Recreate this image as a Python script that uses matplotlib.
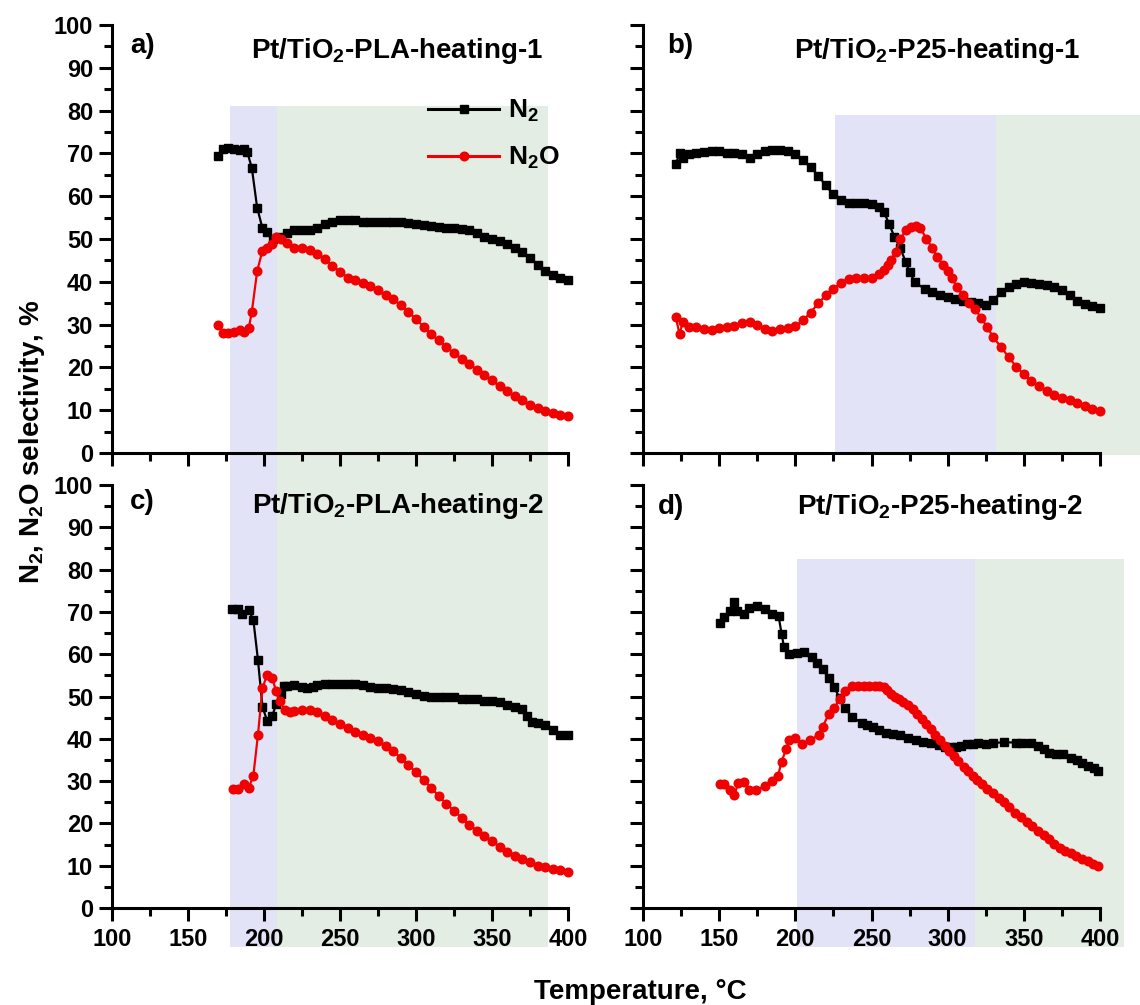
import matplotlib
matplotlib.use("Agg")
import matplotlib.pyplot as plt
from matplotlib.patches import Rectangle
from matplotlib.ticker import MultipleLocator

plt.rcParams['font.family'] = ['Liberation Sans', 'DejaVu Sans']
plt.rcParams['font.weight'] = 'bold'
plt.rcParams['mathtext.fontset'] = 'custom'
plt.rcParams['mathtext.rm'] = 'Liberation Sans:bold'
plt.rcParams['mathtext.it'] = 'Liberation Sans:bold'
plt.rcParams['mathtext.bf'] = 'Liberation Sans:bold'
plt.rcParams['mathtext.sf'] = 'Liberation Sans:bold'
plt.rcParams['mathtext.default'] = 'rm'

# ---------------- data ----------------
# (a) Pt/TiO2-PLA-heating-1
a_n2_T = [170, 173, 176, 180, 184, 187, 189, 192, 195.5, 199, 202, 206, 210,
          215, 220, 225, 230, 235, 240, 245, 250, 255, 260, 265, 270, 275, 280,
          285, 290, 295, 300, 305, 310, 315, 320, 325, 330, 335, 340, 345, 350,
          355, 360, 365, 370, 375, 380, 385, 390, 395, 400]
a_n2 = [69.5, 71, 71.2, 71, 70.8, 71, 70.3, 66.6, 57.3, 52.5, 51.7, 50, 50.5,
        51.5, 52, 52, 52, 52.5, 53.5, 54, 54.5, 54.5, 54.5, 54, 54, 54, 54,
        54, 54, 53.8, 53.5, 53.3, 53, 52.8, 52.6, 52.5, 52.3, 52, 51.5, 50.5, 50,
        49.5, 48.8, 48, 47, 45.5, 44, 42.5, 41.5, 41, 40.5]
a_n2o_T = [170, 173, 176, 180, 184, 187, 190, 192, 195.5, 199, 202, 205, 208, 211,
           215, 220, 225, 230, 235, 240, 245, 250, 255, 260, 265, 270, 275, 280,
           285, 290, 295, 300, 305, 310, 315, 320, 325, 330, 335, 340, 345, 350,
           355, 360, 365, 370, 375, 380, 385, 390, 395, 400]
a_n2o = [30, 28, 28, 28.3, 28.8, 28.2, 29.2, 33, 42.5, 47.3, 48, 48.8, 50.5, 50,
         49, 48, 47.8, 47.5, 46.5, 45.3, 43.8, 42.3, 41, 40.5, 39.7, 39, 38, 37,
         36, 34.5, 33, 31.3, 29.5, 27.8, 26.3, 24.8, 23.3, 22, 20.8, 19.5, 18.3, 17,
         15.6, 14.5, 13.3, 12.3, 11.3, 10.5, 9.8, 9.3, 8.9, 8.7]

# (b) Pt/TiO2-P25-heating-1
b_n2_T = [121.5, 124, 126, 130, 135, 140, 145, 150, 155, 160, 165, 170, 175, 180,
          185, 190, 195, 200, 205, 210, 215, 220, 225, 230, 235, 240, 245, 250, 255,
          258, 261.5, 265, 269, 272.5, 275, 278.5, 285, 290, 295, 300, 305, 310,
          315, 320, 325, 330, 335, 340, 345, 350, 355, 360, 365, 370, 375, 380,
          385, 390, 395, 400]
b_n2 = [67.5, 70, 69, 69.8, 70.2, 70.3, 70.5, 70.5, 70, 70.2, 69.8, 69, 69.8, 70.5,
        70.9, 70.8, 70.5, 69.8, 68.4, 66.8, 64.8, 62.5, 60.4, 59, 58.5, 58.4, 58.3, 58.2, 57.5,
        56.4, 53.6, 50.5, 47.8, 44.6, 42.3, 39.9, 38.3, 37.6, 37, 36.4, 36, 35.5,
        35.2, 35, 34.5, 35.8, 37.5, 38.8, 39.5, 40, 39.8, 39.6, 39.3, 38.8, 38, 37,
        35.5, 34.8, 34.4, 33.8]
b_n2o_T = [121.5, 124, 126, 130, 135, 140, 145, 150, 155, 160, 165, 170, 175, 180,
           185, 190, 195, 200, 205, 210, 215, 220, 225, 230, 235, 240, 245, 250, 255,
           258, 261, 263, 266, 269, 272.5, 276, 279, 282, 286, 290, 293, 297, 300,
           303, 306, 310, 314, 318, 322, 326, 330, 335, 340, 345, 350, 355, 360,
           365, 370, 375, 380, 385, 390, 395, 400]
b_n2o = [31.7, 27.8, 30.5, 29.5, 29.5, 29, 28.8, 29.3, 29.4, 29.6, 30.3, 30.5, 29.8, 29,
         28.6, 29, 29.2, 29.6, 31, 32.8, 35, 36.8, 38.3, 39.8, 40.7, 40.8, 40.8, 41, 41.8,
         42.7, 44, 45.2, 47, 50, 52, 52.8, 53, 52.6, 50.1, 47.8, 45.8, 44, 42.6,
         41, 38.7, 36.8, 35.1, 33.6, 31.6, 29.4, 27, 24.8, 22.4, 20.2, 18.4, 16.8, 15.6,
         14.5, 13.6, 12.8, 12.4, 11.7, 10.9, 10.3, 9.7]

# (c) Pt/TiO2-PLA-heating-2
c_n2_T = [179, 183, 185.5, 190, 193, 196, 199, 202, 205.5, 208, 211, 213, 215, 220,
          225, 228, 232, 235, 240, 245, 250, 255, 260, 265, 270, 275, 280, 285, 290,
          295, 300, 305, 310, 315, 320, 325, 330, 335, 340, 345, 350, 355, 360, 365,
          370, 373, 376, 380, 385, 390, 395, 400]
c_n2 = [70.6, 70.6, 69.6, 70.4, 68.1, 58.7, 47.6, 44.3, 45.5, 48.2, 50.5, 52.6, 52.5, 52.7,
        52.3, 52, 52.3, 52.7, 53, 53, 53, 53, 53, 52.7, 52.3, 52, 52, 51.8, 51.5,
        51, 50.5, 50.2, 50, 50, 50, 49.8, 49.5, 49.5, 49.3, 49, 49, 48.6, 48, 47.6,
        47, 45.5, 44, 43.8, 43.3, 42, 41, 40.8]
c_n2o_T = [179.5, 183, 187, 190, 193, 196, 199, 202, 205.5, 208, 210.5, 213.5, 217,
           220, 225, 230, 235, 240, 245, 250, 255, 260, 265, 270, 275, 280, 285, 290,
           295, 300, 305, 310, 315, 320, 325, 330, 335, 340, 345, 350, 355, 360, 365,
           370, 375, 380, 385, 390, 395, 400]
c_n2o = [28.2, 28.2, 29.4, 28.4, 31.3, 40.9, 52, 55.1, 54.3, 51.2, 48.9, 46.8, 46.4,
         46.5, 46.7, 46.8, 46.3, 45.5, 44.5, 43.4, 42.5, 41.7, 41, 40.3, 39.4, 38.4, 37, 35.5,
         33.8, 32.1, 30.3, 28.4, 26.5, 24.6, 23, 21.3, 19.7, 18.3, 17, 15.8, 14.5, 13.3, 12.4,
         11.6, 10.8, 10, 9.6, 9.2, 8.9, 8.6]

# (d) Pt/TiO2-P25-heating-2
d_n2_T = [150.5, 153.5, 157, 160, 162, 166, 169.5, 175, 180, 185,
          189, 191, 192.5, 196, 201, 206, 211, 214.5, 218, 222,
          225.5, 229, 232.5, 237.5, 243.5, 247, 251, 255, 259.5, 264,
          269, 274, 279, 284, 289, 294, 298.5, 302, 305.5, 309,
          313, 316.5, 320, 325, 330, 337, 345, 349, 355, 359,
          363, 366.5, 371, 376, 381, 385, 388, 392, 396, 399]
d_n2 = [67.3, 68.9, 70.2, 72.3, 70.2, 69.4, 71, 71.4, 70.8, 69.6,
        69, 64.8, 61.8, 60, 60.2, 60.6, 59.3, 58, 56.4, 54.3,
        52.2, 49.7, 47.2, 45.1, 43.8, 43.3, 42.9, 42.1, 41.3, 41.1,
        40.9, 40.2, 39.6, 39.3, 39, 38.5, 38, 38, 38, 38.3,
        38.8, 38.8, 38.9, 38.8, 39, 39.2, 39.1, 39, 39, 38.4,
        37.5, 36.7, 36.5, 36.3, 35.5, 34.9, 34.2, 33.6, 33.1, 32.5]
d_n2o_T = [150.5, 153.5, 157, 160, 162.5, 166, 169.5, 174, 180, 185,
           188.5, 191, 194, 196, 200, 204.5, 209.5, 215.5, 218, 222,
           225.5, 229, 232.5, 237.5, 241, 245, 248.5, 252, 255, 258,
           260.5, 263, 265.5, 268, 271, 274, 277, 280, 283, 286,
           289, 292, 295, 298, 301, 304, 307, 310.5, 313.5, 316.5,
           319.5, 322.5, 326, 330, 333.5, 337, 340.5, 344.5, 348, 352,
           355.5, 359, 363, 366.5, 370, 373.5, 377, 381, 384.5, 388,
           392, 395.5, 399]
d_n2o = [29.4, 29.2, 27.9, 26.7, 29.6, 29.8, 27.9, 27.9, 28.8, 30,
         31.1, 34.6, 37.6, 39.6, 40.1, 38.8, 39.6, 40.9, 42.9, 45.9,
         47.2, 49.3, 51.4, 52.4, 52.5, 52.6, 52.6, 52.6, 52.5, 52.2,
         51.5, 50.5, 50, 49.3, 48.7, 48, 47, 45.9, 44.7, 43.4,
         42.2, 40.9, 39.7, 38.4, 37.2, 35.9, 34.7, 33.4, 32.4, 31.3,
         30.3, 29.2, 28.2, 27.1, 26, 25, 23.8, 22.5, 21.5, 20.4,
         19.3, 18.3, 17.2, 16.2, 15.1, 14.1, 13.5, 12.9, 12.3, 11.6,
         11, 10.4, 10]

titles = ["Pt/TiO$_2$-PLA-heating-1", "Pt/TiO$_2$-P25-heating-1",
          "Pt/TiO$_2$-PLA-heating-2", "Pt/TiO$_2$-P25-heating-2"]
panel_labels = ["a)", "b)", "c)", "d)"]

# temperature ranges of the shaded regions (blue range, green range)
a_blue = [177.6, 208.5]; a_green = [208.5, 387]
b_blue = [226, 332];     b_green = [332, 426.5]
c_blue = [177.6, 208.5]; c_green = [208.5, 387]
d_blue = [201, 318];     d_green = [318, 415.5]

# ---------------- figure ----------------
W, H = 1140, 1005
fig = plt.figure(figsize=(W / 100, H / 100), dpi=100)

def px_axes(x0, x1, ytop, ybot):
    return [x0 / W, 1 - ybot / H, (x1 - x0) / W, (ybot - ytop) / H]

axA = fig.add_axes(px_axes(112, 568, 25, 453), zorder=2)
axB = fig.add_axes(px_axes(643, 1100, 25, 453), zorder=2)
axC = fig.add_axes(px_axes(112, 568, 485, 908), zorder=1)
axD = fig.add_axes(px_axes(643, 1100, 485, 908), zorder=1)

BLUE_SHADE = '#E3E3F8'
GREEN_SHADE = '#E3EDE3'
RED = '#F00000'

panels = [
    (axA, a_n2_T, a_n2, a_n2o_T, a_n2o, a_blue, a_green, (-4, 81), True, False),
    (axB, b_n2_T, b_n2, b_n2o_T, b_n2o, b_blue, b_green, (-0.4, 79), False, False),
    (axC, c_n2_T, c_n2, c_n2o_T, c_n2o, c_blue, c_green, (-9.2, 107), True, True),
    (axD, d_n2_T, d_n2, d_n2o_T, d_n2o, d_blue, d_green, (-9.2, 82.5), False, True),
]

title_pos = [(0.625, 0.923), (0.643, 0.923), (0.627, 0.934), (0.65, 0.932)]
label_pos = [(0.04, 0.935), (0.052, 0.935), (0.04, 0.944), (0.033, 0.932)]

for i, (ax, tn2, yn2, tn2o, yn2o, blue, green, yr, ylab, xlab) in enumerate(panels):
    ax.set_facecolor('none')
    ax.set_xlim(100, 400)
    ax.set_ylim(0, 100)
    for (x0, x1), col in ((blue, BLUE_SHADE), (green, GREEN_SHADE)):
        ax.add_patch(Rectangle((x0, yr[0]), x1 - x0, yr[1] - yr[0], facecolor=col,
                               edgecolor='none', clip_on=False, zorder=0))
    ax.plot(tn2, yn2, '-', color='black', lw=1.6, marker='s', ms=5.5,
            mec='black', mfc='black', label='N$_2$', clip_on=False, zorder=3)
    ax.plot(tn2o, yn2o, '-', color=RED, lw=1.6, marker='o', ms=6.2,
            mec=RED, mfc=RED, label='N$_2$O', clip_on=False, zorder=3)
    for s in ('top', 'right'):
        ax.spines[s].set_visible(False)
    for s in ('left', 'bottom'):
        ax.spines[s].set_linewidth(2.2)
    ax.xaxis.set_major_locator(MultipleLocator(50))
    ax.xaxis.set_minor_locator(MultipleLocator(25))
    ax.yaxis.set_major_locator(MultipleLocator(10))
    ax.yaxis.set_minor_locator(MultipleLocator(5))
    ax.tick_params(which='major', direction='out', length=9.5, width=2.2,
                   labelsize=17, pad=4)
    ax.tick_params(which='minor', direction='out', length=5.5, width=2.2)
    ax.tick_params(axis='x', pad=5)
    if not ylab:
        ax.tick_params(axis='y', labelleft=False)
    if not xlab:
        ax.tick_params(axis='x', labelbottom=False)
    for lbl in ax.get_xticklabels() + ax.get_yticklabels():
        lbl.set_fontweight('bold')
    ax.text(title_pos[i][0], title_pos[i][1], titles[i], transform=ax.transAxes,
            ha='center', va='baseline', fontsize=20, fontweight='bold')
    ax.text(label_pos[i][0], label_pos[i][1], panel_labels[i], transform=ax.transAxes,
            ha='left', va='baseline', fontsize=20, fontweight='bold')

leg = axA.legend(loc='upper left', bbox_to_anchor=(0.693, 0.83), frameon=False,
                 fontsize=19, handlelength=2.7, handletextpad=0.35,
                 labelspacing=0.8, borderpad=0, borderaxespad=0, numpoints=1)
for t in leg.get_texts():
    t.set_fontweight('bold')
for h in leg.legend_handles:
    h.set_linewidth(2.2)

fig.text(32 / W, 1 - 442 / H, "N$_2$, N$_2$O selectivity, %", rotation=90,
         ha='center', va='center', fontsize=20, fontweight='bold')
fig.text(640 / W, 1 - 999 / H, "Temperature, °C", ha='center', va='baseline',
         fontsize=20, fontweight='bold')

fig.savefig('out.png', dpi=100)
